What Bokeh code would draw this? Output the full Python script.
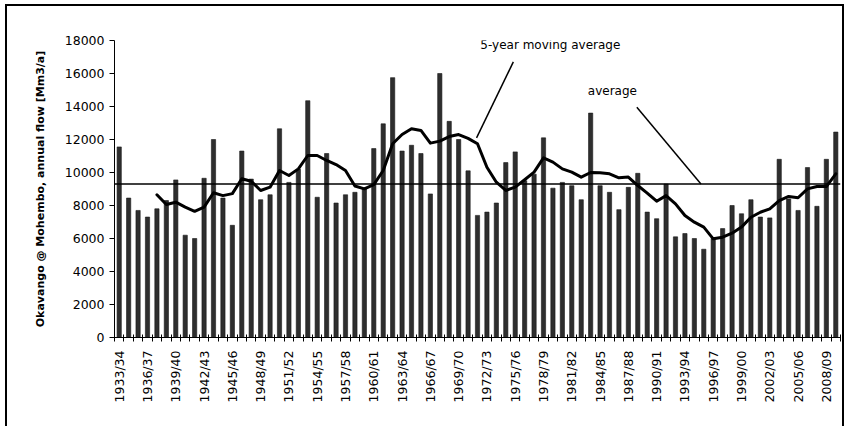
from math import pi
from bokeh.plotting import figure
from bokeh.models import FixedTicker, Span, Label, Range1d, NumeralTickFormatter
from bokeh.embed import file_html
from bokeh.resources import INLINE

# ---- data ----
start_years = list(range(1933, 2010))
seasons = [f"{y}/{(y + 1) % 100:02d}" for y in start_years]

flow = [
    11550, 8450, 7700, 7300, 7800, 8300, 9550, 6200, 6000, 9650,
    12000, 8450, 6800, 11300, 9600, 8350, 8650, 12650, 9400, 10200,
    14350, 8500, 11150, 8150, 8650, 8800, 9050, 11450, 12950, 15750,
    11300, 11650, 11150, 8700, 16000, 13100, 12000, 10100, 7400, 7600,
    8150, 10600, 11250, 9500, 9900, 12100, 9050, 9400, 9200, 8350,
    13600, 9200, 8800, 7750, 9100, 9950, 7600, 7200, 9300, 6100,
    6300, 6000, 5350, 6000, 6600, 8000, 7500, 8350, 7300, 7250,
    10800, 8400, 7700, 10300, 7950, 10800, 12450,
]

# 5-year moving average, starting at the 5th season (1937/38)
ma_start = 4
ma5 = [
    8650, 8060, 8200, 7900, 7650, 7900, 8770, 8600, 8720, 9620,
    9470, 8910, 9110, 10120, 9820, 10220, 11030, 11030, 10730, 10480,
    10120, 9180, 9010, 9270, 10120, 11740, 12300, 12650, 12550, 11780,
    11900, 12180, 12300, 12070, 11740, 10320, 9410, 8910, 9110, 9560,
    10020, 10890, 10630, 10220, 10020, 9720, 10000, 9980, 9920, 9680,
    9720, 9210, 8750, 8260, 8600, 8100, 7390, 6990, 6690, 5980,
    6080, 6320, 6690, 7290, 7590, 7800, 8300, 8550, 8470, 9010,
    9150, 9150, 9920,
]

average_flow = 9300

label_ticks = list(range(0, len(flow), 3))
y_ticks = list(range(0, 18001, 2000))

# annotation placement (data units)
ma_text_pos = (38.3, 17750)
ma_leader = (41.8, 16700, 37.9, 12100)
avg_text_pos = (49.7, 14950)
avg_leader = (54.9, 13950, 61.7, average_flow)

idx = list(range(len(flow)))
ma_x = idx[ma_start:]

FONT = "DejaVu Sans"

p = figure(
    width=839, height=422,
    output_backend="svg", toolbar_location=None,
    x_range=Range1d(-0.5, len(flow) - 0.5),
    y_range=Range1d(0, 18000),
    min_border_left=107, min_border_right=6,
    min_border_top=34, min_border_bottom=91,
)
p.styles = {
    "margin-left": "5px",
    "margin-top": "4px",
    "border-left": "2px solid black",
    "border-top": "2px solid black",
    "border-right": "2px solid black",
}
p.outline_line_color = None
p.xgrid.visible = False
p.ygrid.visible = False
p.background_fill_color = "white"
p.border_fill_color = "white"

p.vbar(x=idx, top=flow, width=0.45, fill_color="#2e2e2e",
       line_color="#1a1a1a", line_width=0.6)

p.add_layout(Span(location=average_flow, dimension="width",
                  line_color="black", line_width=1.5, level="glyph"))

p.line(x=ma_x, y=ma5, line_color="black", line_width=3,
       line_join="round", line_cap="round")

# leader lines
p.segment(x0=[ma_leader[0], avg_leader[0]], y0=[ma_leader[1], avg_leader[1]],
          x1=[ma_leader[2], avg_leader[2]], y1=[ma_leader[3], avg_leader[3]],
          line_color="black", line_width=1.5)

p.add_layout(Label(x=ma_text_pos[0], y=ma_text_pos[1], text="5-year moving average",
                   text_font=FONT, text_font_size="12px", text_baseline="middle",
                   text_color="black"))
p.add_layout(Label(x=avg_text_pos[0], y=avg_text_pos[1], text="average",
                   text_font=FONT, text_font_size="12px", text_baseline="middle",
                   text_color="black"))

# x axis
xa = p.xaxis[0]
xa.ticker = FixedTicker(ticks=label_ticks,
                        minor_ticks=[i - 0.5 for i in range(len(flow) + 1)])
xa.major_label_overrides = {i: seasons[i] for i in label_ticks}
xa.major_label_orientation = pi / 2
xa.major_tick_in = 0
xa.major_tick_out = 0
xa.minor_tick_in = 3
xa.minor_tick_out = 4
xa.minor_tick_line_color = "black"
xa.major_label_standoff = 9
xa.major_label_text_font = FONT
xa.major_label_text_font_size = "12.5px"
xa.major_label_text_color = "black"
xa.axis_line_color = "black"

# y axis
ya = p.yaxis[0]
ya.ticker = FixedTicker(ticks=y_ticks)
ya.formatter = NumeralTickFormatter(format="0")
ya.major_tick_in = 0
ya.major_tick_out = 5
ya.minor_tick_out = 0
ya.minor_tick_in = 0
ya.major_tick_line_color = "black"
ya.axis_line_color = "black"
ya.major_label_standoff = 5
ya.major_label_text_font = FONT
ya.major_label_text_font_size = "12.5px"
ya.major_label_text_color = "black"
ya.axis_label = "Okavango @ Mohembo, annual flow [Mm3/a]"
ya.axis_label_text_font = FONT
ya.axis_label_text_font_style = "bold"
ya.axis_label_text_font_size = "11px"
ya.axis_label_text_color = "black"
ya.axis_label_standoff = 15

open("out.html", "w").write(file_html(p, INLINE))
